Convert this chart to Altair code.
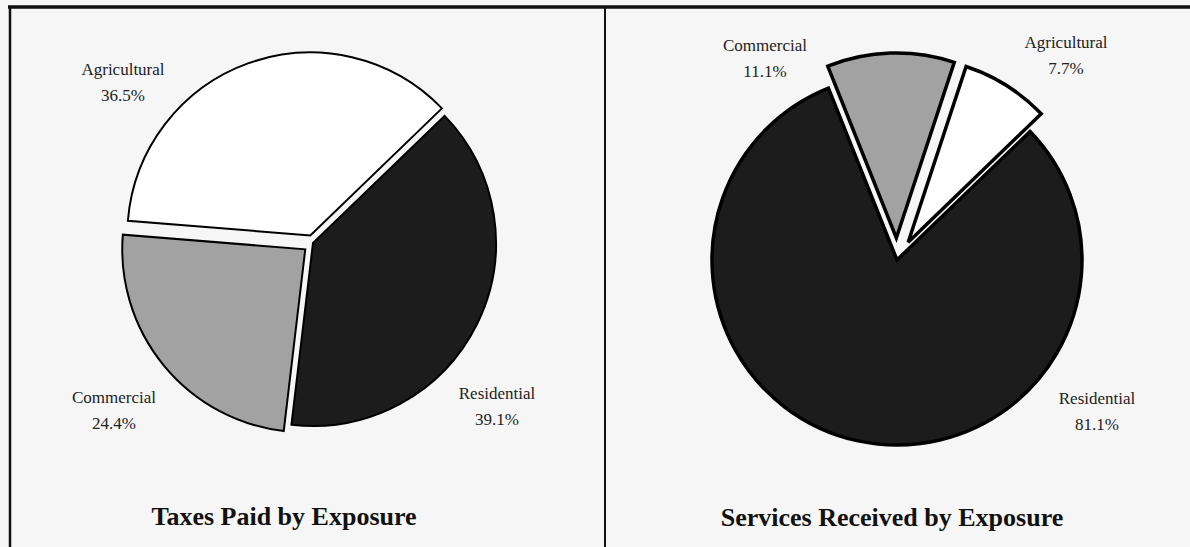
import math
import altair as alt
import pandas as pd

# ---- data ----
categories = ["Residential", "Commercial", "Agricultural"]
taxes_paid = [39.1, 24.4, 36.5]
services_received = [81.1, 11.1, 7.7]
panel_keys = ["taxes", "services"]
panel_titles = ["Taxes Paid by Exposure", "Services Received by Exposure"]

rows = []
for key, vals in zip(panel_keys, [taxes_paid, services_received]):
    for i, (c, v) in enumerate(zip(categories, vals)):
        rows.append({"panel": key, "category": c, "value": v, "order": i})
df = pd.DataFrame(rows)

# ---- layout / style ----
W, H = 1190, 547
START = math.radians(46)
FONT = "Liberation Serif"
COLORS = ["#1c1c1c", "#a2a2a2", "#ffffff"]
LAYOUT = {
    "taxes": dict(cx=313, cy=243, r=183, stroke=2,
                  explode={"Residential": 0, "Commercial": 10, "Agricultural": 8}),
    "services": dict(cx=897, cy=260, r=185, stroke=3.5,
                     explode={"Residential": 0, "Commercial": 22, "Agricultural": 21}),
}
# position of the first text line of each label
LABEL_POS = {
    ("taxes", "Agricultural"): (123, 70),
    ("taxes", "Commercial"): (114, 398),
    ("taxes", "Residential"): (497, 394),
    ("services", "Commercial"): (765, 46),
    ("services", "Agricultural"): (1066, 43),
    ("services", "Residential"): (1097, 399),
}
TITLE_POS = {"taxes": (284, 517), "services": (892, 518)}


def pie(key):
    L = LAYOUT[key]
    ex = L["explode"]
    explode_expr = (
        f"datum.category == 'Commercial' ? {ex['Commercial']} : "
        f"(datum.category == 'Agricultural' ? {ex['Agricultural']} : {ex['Residential']})"
    )
    base = (
        alt.Chart(df)
        .transform_filter(alt.datum.panel == key)
        .transform_window(cum="sum(value)", sort=[alt.SortField("order")], frame=[None, 0])
        .transform_joinaggregate(total="sum(value)")
        .transform_calculate(t0=f"{START} + 2*PI*(datum.cum - datum.value)/datum.total")
        .transform_calculate(t1=f"{START} + 2*PI*datum.cum/datum.total")
        .transform_calculate(tm="(datum.t0 + datum.t1)/2")
        .transform_calculate(d=explode_expr)
        .transform_calculate(px=f"{L['cx']} + datum.d*sin(datum.tm)")
        .transform_calculate(py=f"{L['cy']} - datum.d*cos(datum.tm)")
    )
    return base.mark_arc(radius=L["r"], stroke="black", strokeWidth=L["stroke"],
                         strokeJoin="miter").encode(
        x=alt.X("px:Q", scale=None, axis=None),
        y=alt.Y("py:Q", scale=None, axis=None),
        theta=alt.Theta("t0:Q", scale=None),
        theta2="t1:Q",
        fill=alt.Fill("category:N", scale=alt.Scale(domain=categories, range=COLORS), legend=None),
    )


lab_rows = []
for key, vals in zip(panel_keys, [taxes_paid, services_received]):
    for c, v in zip(categories, vals):
        x, y = LABEL_POS[(key, c)]
        lab_rows.append({"text": f"{c}\n{v:.1f}%", "lx": x, "ly": y})
lab_df = pd.DataFrame(lab_rows)

labels = alt.Chart(lab_df).mark_text(
    font=FONT, fontSize=17, color="#222", lineBreak="\n", lineHeight=26,
    align="center", baseline="middle"
).encode(
    x=alt.X("lx:Q", scale=None, axis=None),
    y=alt.Y("ly:Q", scale=None, axis=None),
    text="text:N",
)

title_df = pd.DataFrame({
    "text": panel_titles,
    "tx": [TITLE_POS[k][0] for k in panel_keys],
    "ty": [TITLE_POS[k][1] for k in panel_keys],
})
titles = alt.Chart(title_df).mark_text(
    font=FONT, fontSize=26, fontWeight="bold", color="#111",
    align="center", baseline="middle"
).encode(
    x=alt.X("tx:Q", scale=None, axis=None),
    y=alt.Y("ty:Q", scale=None, axis=None),
    text="text:N",
)

one = alt.Data(values=[{"k": 1}])
top_line = alt.Chart(one).mark_rule(color="#111", strokeWidth=3.5).encode(
    x=alt.value(8), x2=alt.value(W), y=alt.value(7))
left_line = alt.Chart(one).mark_rule(color="#111", strokeWidth=2.5).encode(
    x=alt.value(10), y=alt.value(6), y2=alt.value(H))
divider = alt.Chart(one).mark_rule(color="#111", strokeWidth=2).encode(
    x=alt.value(605), y=alt.value(6), y2=alt.value(H))

chart = alt.layer(
    pie("taxes"), pie("services"), labels, titles, top_line, left_line, divider
).properties(
    width=W, height=H, autosize=alt.AutoSizeParams(type="none"), padding=0
).configure(background="#f6f6f6").configure_view(stroke=None)

chart.save("out.html", embed_options={"renderer": "svg", "actions": False})
